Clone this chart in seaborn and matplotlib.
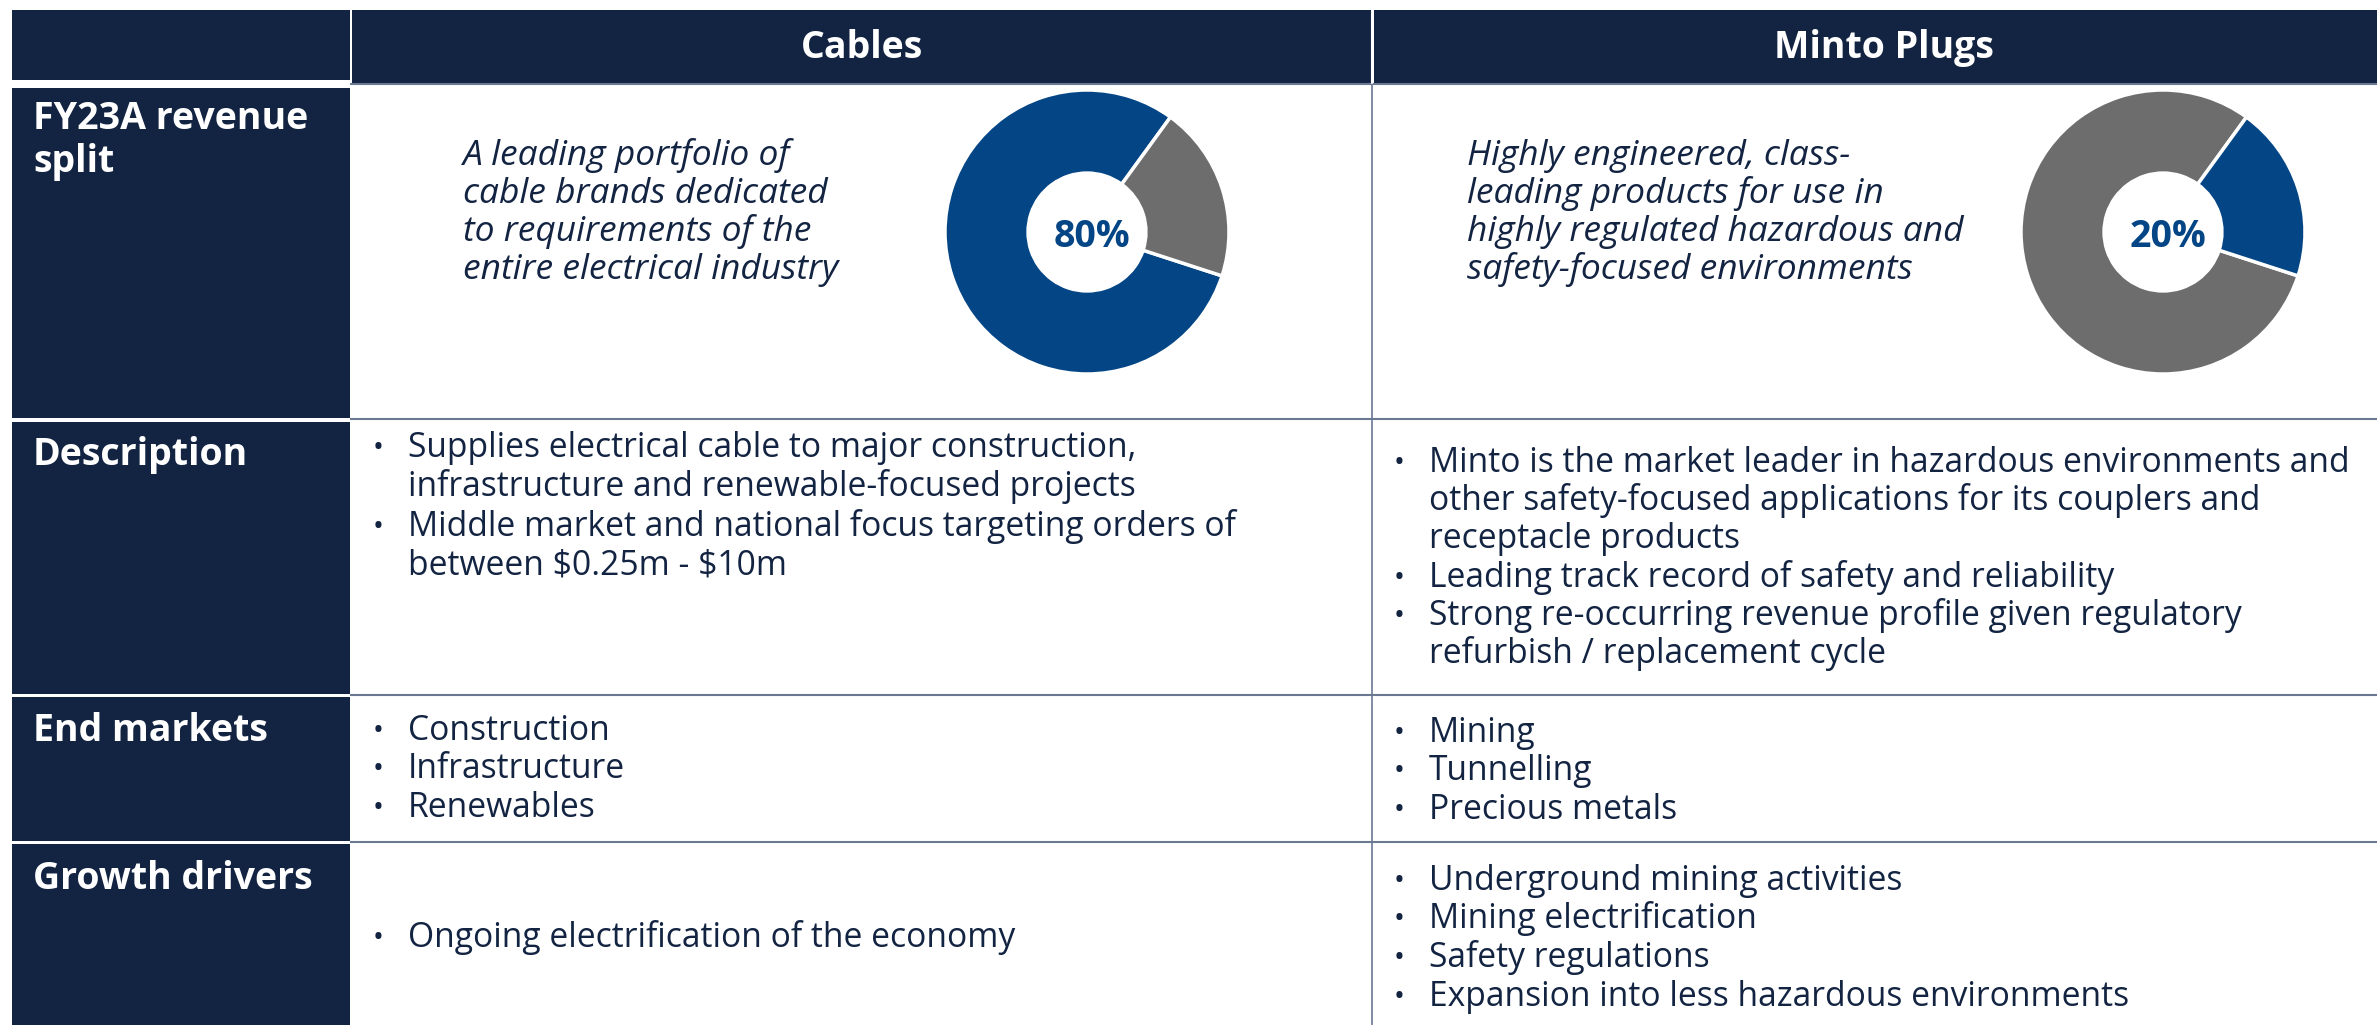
import matplotlib
matplotlib.use("Agg")
import matplotlib.pyplot as plt
from matplotlib.patches import Rectangle
import seaborn as sns

# ---- data ----
columns = ["Cables", "Minto Plugs"]
row_labels = [["FY23A revenue", "split"], ["Description"], ["End markets"], ["Growth drivers"]]
segments = ["Cables", "Minto Plugs"]
revenue_share = [80, 20]  # FY23A revenue split, %

taglines = [
    ["A leading portfolio of", "cable brands dedicated", "to requirements of the", "entire electrical industry"],
    ["Highly engineered, class-", "leading products for use in", "highly regulated hazardous and", "safety-focused environments"],
]
descriptions = [
    [["Supplies electrical cable to major construction,", "infrastructure and renewable-focused projects"],
     ["Middle market and national focus targeting orders of", "between $0.25m - $10m"]],
    [["Minto is the market leader in hazardous environments and",
      "other safety-focused applications for its couplers and", "receptacle products"],
     ["Leading track record of safety and reliability"],
     ["Strong re-occurring revenue profile given regulatory", "refurbish / replacement cycle"]],
]
end_markets = [
    [["Construction"], ["Infrastructure"], ["Renewables"]],
    [["Mining"], ["Tunnelling"], ["Precious metals"]],
]
growth_drivers = [
    [["Ongoing electrification of the economy"]],
    [["Underground mining activities"], ["Mining electrification"], ["Safety regulations"],
     ["Expansion into less hazardous environments"]],
]

# ---- style ----
sns.set_theme(style="white")
plt.rcParams["font.family"] = ["Open Sans", "DejaVu Sans"]

NAVY = "#132442"
BLUE = "#034585"
GREY = "#6d6d6d"
LINE = "#6a7891"
W, H = 2377, 1025

fig = plt.figure(figsize=(W / 100, H / 100), dpi=100)
ax = fig.add_axes([0, 0, 1, 1])
ax.set_xlim(0, W)
ax.set_ylim(H, 0)
ax.axis("off")

# column / row geometry (pixels)
col_x = [(352, 1372), (1374, 2400)]
rows_y = [(88, 418), (422, 694), (697, 841), (844, 1030)]
label_base = [129, 465, 741, 889]

# header row
ax.add_patch(Rectangle((12, 10), 338, 70, color=NAVY, lw=0))
for (x0, x1), name in zip(col_x, columns):
    ax.add_patch(Rectangle((x0, 10), x1 - x0, 73, color=NAVY, lw=0))
    ax.text((x0 + min(x1, W)) / 2 + (8 if x1 > W else 0), 58, name, color="white",
            fontsize=27, fontweight="bold", ha="center", va="baseline")

# left label column
for (y0, y1), lab, yb in zip(rows_y, row_labels, label_base):
    ax.add_patch(Rectangle((12, y0), 338, y1 - y0, color=NAVY, lw=0))
    for i, line in enumerate(lab):
        ax.text(33, yb + i * 43, line, color="white", fontsize=27,
                fontweight="bold", va="baseline")

# grid lines
for y in [84, 419, 695, 842]:
    ax.plot([350, W], [y, y], color=LINE, lw=1.5, solid_capstyle="butt")
ax.plot([1372, 1372], [84, H], color=LINE, lw=1.2)
ax.plot([1372, 1372], [10, 83], color="white", lw=1.5)

# bullet lists
LH = 38.5


def bullets(items, bx, tx, y0, step=LH):
    y = y0
    for item in items:
        ax.text(bx, y - 1, "\u2022", color=NAVY, fontsize=21, va="baseline")
        for line in item:
            ax.text(tx, y, line, color=NAVY, fontsize=24.2, va="baseline",
                    parse_math=False)
            y += step


bullet_x = [(373, 408), (1394, 1429)]
desc_start = [457, 472]
end_start = [740, 742]
grow_start = [947, 890]
for c in range(2):
    bx, tx = bullet_x[c]
    bullets(descriptions[c], bx, tx, desc_start[c], 39.3 if c == 0 else 38.2)
    bullets(end_markets[c], bx, tx, end_start[c])
    bullets(growth_drivers[c], bx, tx, grow_start[c])

# taglines
tag_x = [463, 1467]
for c in range(2):
    for i, line in enumerate(taglines[c]):
        ax.text(tag_x[c], 165 + i * 38, line, color=NAVY, fontsize=25.5,
                style="italic", va="baseline")

# donuts
centers = [(1087, 232), (2163, 232)]
R = 142
PAD = 1.05
for c, (cx, cy) in enumerate(centers):
    half = R * PAD
    dax = fig.add_axes([(cx - half) / W, 1 - (cy + half) / H, 2 * half / W, 2 * half / H])
    cols = [BLUE, GREY] if c == 0 else [GREY, BLUE]
    dax.pie(revenue_share, colors=cols, startangle=54, counterclock=True,
            wedgeprops=dict(width=0.585, edgecolor="white", linewidth=2.5))
    dax.set_xlim(-PAD, PAD)
    dax.set_ylim(-PAD, PAD)
    dax.set_aspect("equal")
    dax.axis("off")
    ax.text(cx + 5, cy + 15, f"{revenue_share[c]}%", color=BLUE, fontsize=27,
            fontweight="bold", ha="center", va="baseline")

fig.savefig("out.png", dpi=100, facecolor="white")
